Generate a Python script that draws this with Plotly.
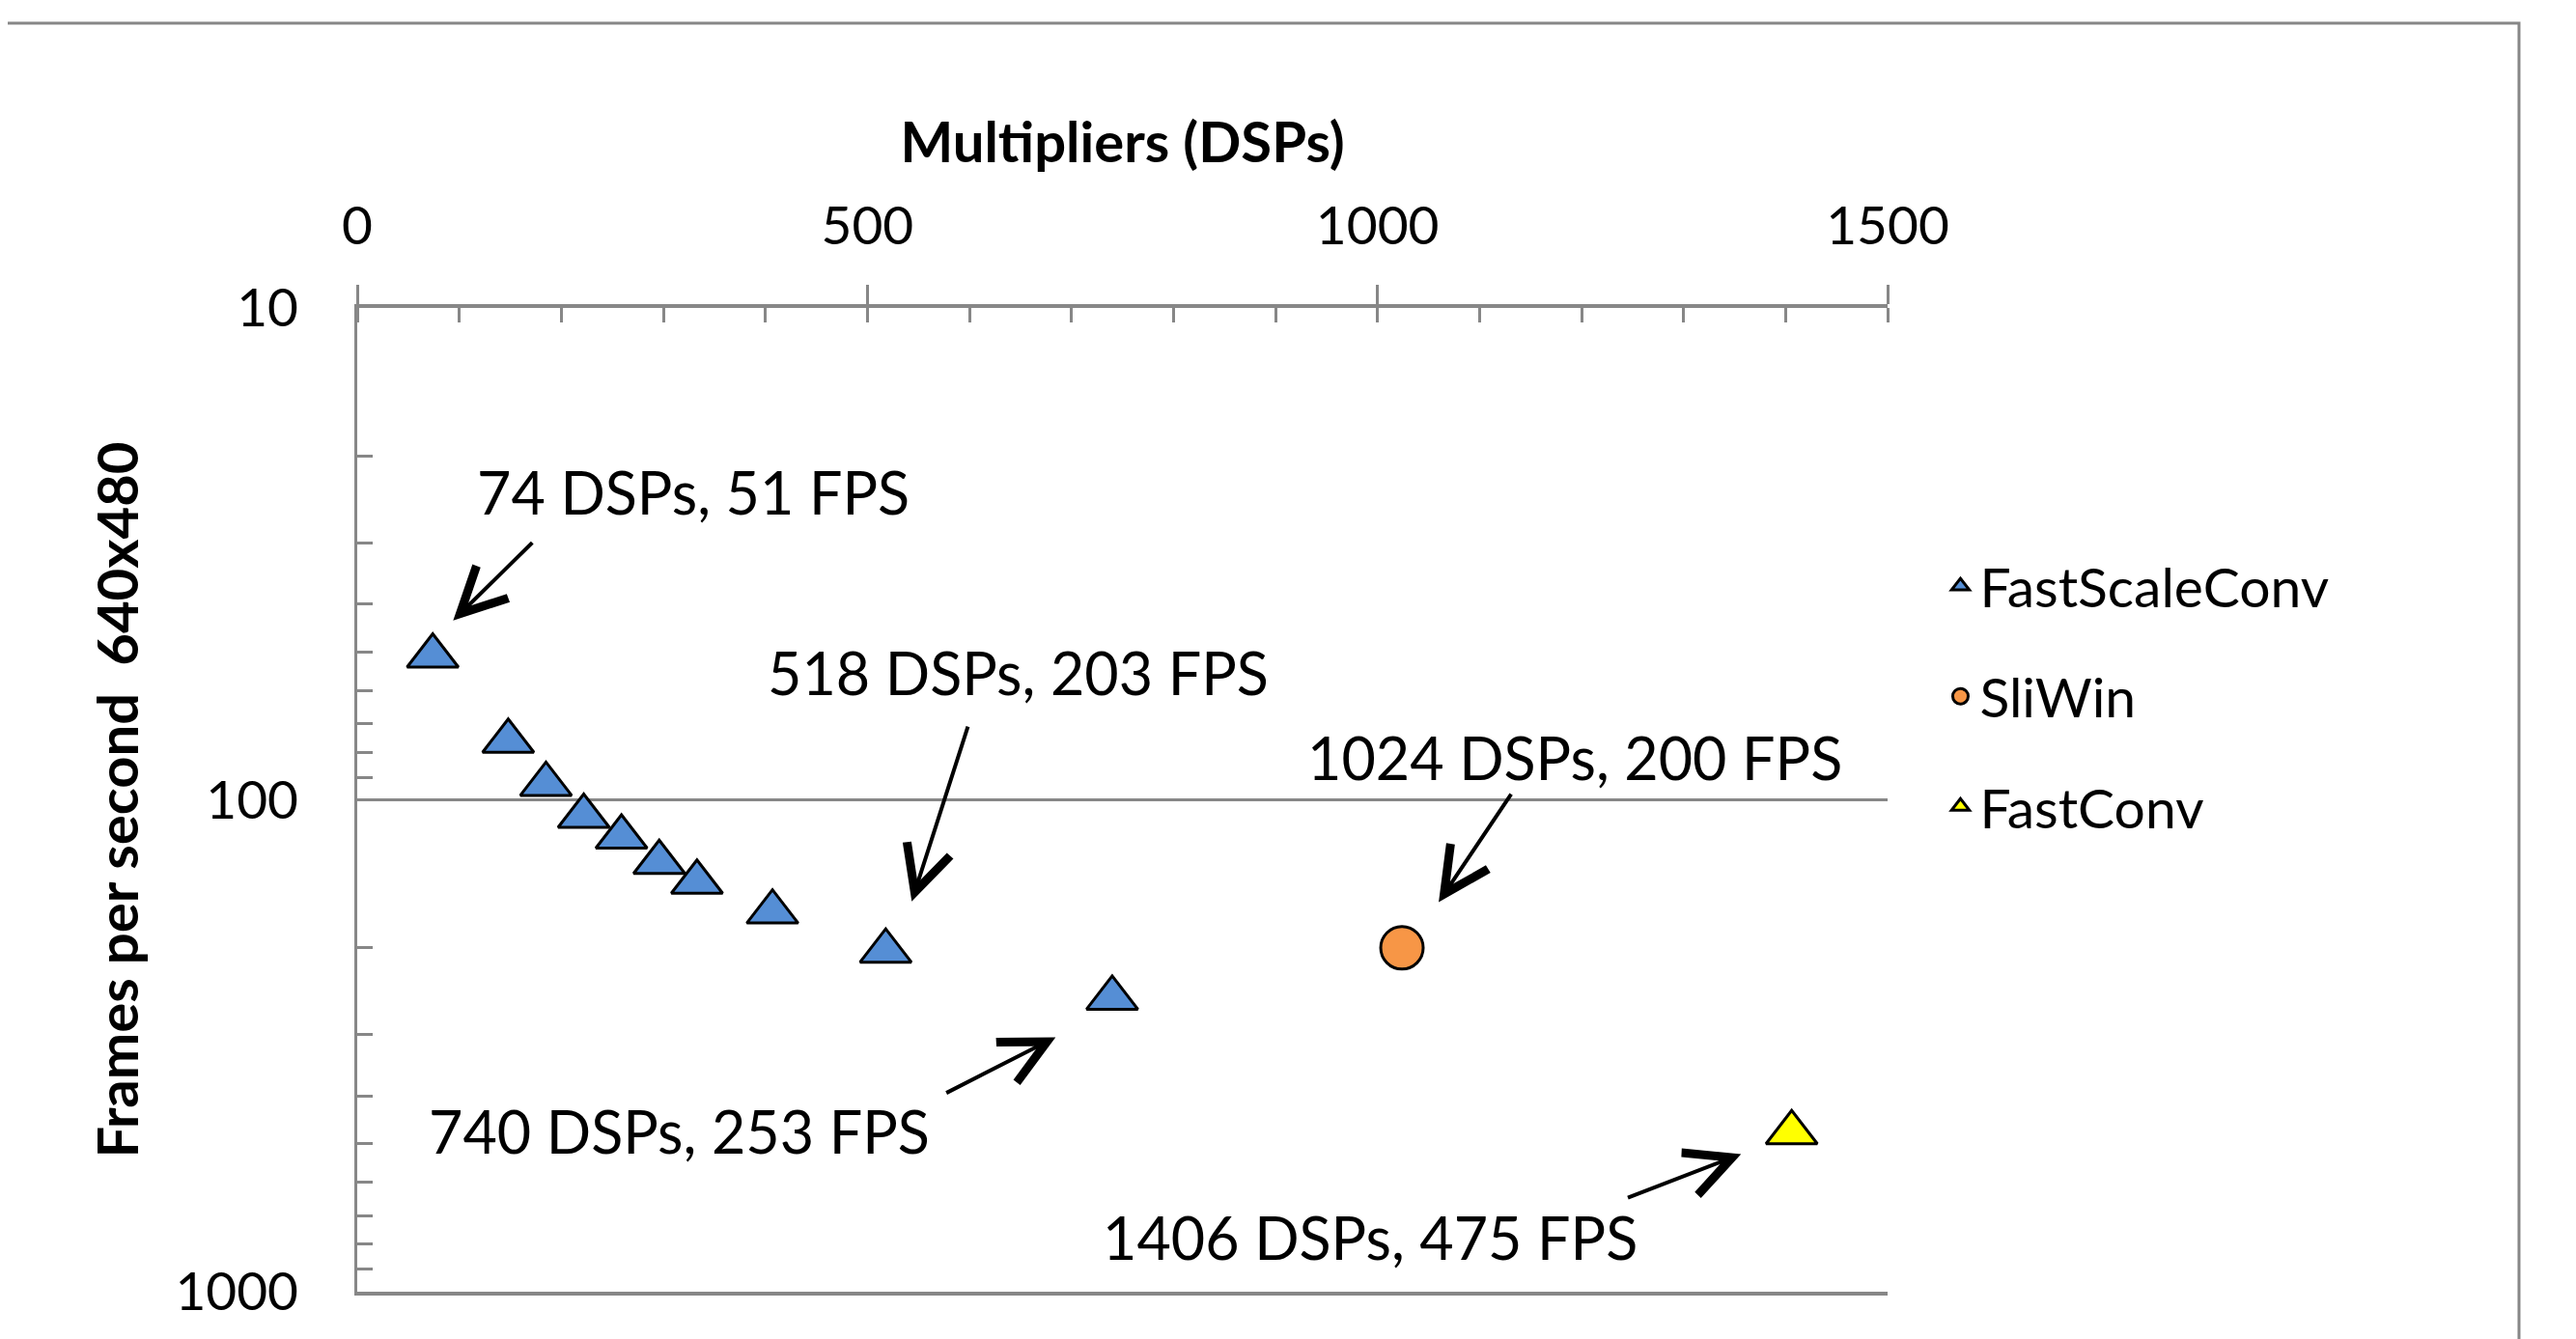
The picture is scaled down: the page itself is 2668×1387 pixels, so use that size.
import numpy as np
import plotly.graph_objects as go

# ---------------- data ----------------
fsc_dsps = [74, 148, 185, 222, 259, 296, 333, 407, 518, 740]
fsc_fps = [51, 76, 93, 108, 119, 134, 147, 169, 203, 253]
sliwin_dsps = [1024]
sliwin_fps = [200]
fastconv_dsps = [1406]
fastconv_fps = [475]

x_tickvals = [0, 500, 1000, 1500]
x_ticktext = ["0", "500", "1000", "1500"]
y_tickvals = [10, 100, 1000]
y_ticktext = ["10", "100", "1000"]
y_minorvals = [20, 30, 40, 50, 60, 70, 80, 90, 200, 300, 400, 500, 600, 700, 800, 900]

callout_text = ["74 DSPs, 51 FPS", "518 DSPs, 203 FPS", "1024 DSPs, 200 FPS",
                "740 DSPs, 253 FPS", "1406 DSPs, 475 FPS"]
callout_x = [329, 648, 1193, 316, 993]
callout_y = [23.7, 55.1, 82.0, 472, 773]
# arrows: tail (x, fps) -> head (x, fps)
arrow_tail_x = [173, 599, 1132, 576, 1244]
arrow_tail_y = [29.8, 70.5, 96.7, 395.7, 645.7]
arrow_head_x = [94, 543.5, 1060, 684.5, 1356.4]
arrow_head_y = [43.2, 160.9, 161.4, 303.9, 525]

FONT = "Lato"
GRAY = "#878787"

fig = go.Figure()
fig.add_trace(go.Scatter(
    x=fsc_dsps, y=fsc_fps, mode="markers", name="FastScaleConv", legendgroup="a",
    marker=dict(symbol="triangle-up", size=46, color="#558ED5",
                line=dict(color="black", width=3))))
fig.add_trace(go.Scatter(
    x=sliwin_dsps, y=sliwin_fps, mode="markers", name="SliWin", legendgroup="b",
    marker=dict(symbol="circle", size=44, color="#F79646",
                line=dict(color="black", width=3))))
fig.add_trace(go.Scatter(
    x=fastconv_dsps, y=fastconv_fps, mode="markers", name="FastConv", legendgroup="c",
    marker=dict(symbol="triangle-up", size=46, color="#FFFF00",
                line=dict(color="black", width=3))))
# helper trace for inner half of major x ticks
fig.add_trace(go.Scatter(x=[None], y=[None], xaxis="x2", showlegend=False,
                         hoverinfo="skip"))

annotations = []
for t, x, y in zip(callout_text, callout_x, callout_y):
    annotations.append(dict(text=t, x=x, y=np.log10(y), xref="x", yref="y",
                            showarrow=False, xanchor="center", yanchor="middle",
                            font=dict(family=FONT, size=61, color="black")))
for tx, ty, hx, hy in zip(arrow_tail_x, arrow_tail_y, arrow_head_x, arrow_head_y):
    annotations.append(dict(text="", x=hx, y=np.log10(hy), ax=tx, ay=np.log10(ty),
                            xref="x", yref="y", axref="x", ayref="y",
                            showarrow=True, arrowhead=5, arrowsize=2.3,
                            arrowwidth=4, arrowcolor="black", standoff=0,
                            startstandoff=0))

fig.update_layout(
    width=2668, height=1387,
    margin=dict(l=362, r=721, t=311, b=57, autoexpand=False),
    paper_bgcolor="white", plot_bgcolor="white",
    font=dict(family=FONT, color="black"),
    showlegend=True,
    legend=dict(x=1.035, xanchor="left", y=0.760, yanchor="top",
                font=dict(family=FONT, size=57, color="black"),
                tracegroupgap=37, traceorder="grouped",
                bgcolor="rgba(0,0,0,0)"),
    annotations=annotations,
    shapes=[dict(type="rect", xref="paper", yref="paper",
                 x0=-0.2315, x1=1.4126, y0=-0.2, y1=1.2895,
                 line=dict(color=GRAY, width=3), fillcolor="rgba(0,0,0,0)",
                 layer="below")],
    xaxis=dict(
        side="top", range=[0, 1500], tickvals=x_tickvals, ticktext=x_ticktext,
        ticks="outside", ticklen=20, tickwidth=3, tickcolor=GRAY,
        showline=True, linecolor=GRAY, linewidth=4, mirror=True,
        showgrid=False, zeroline=False,
        tickfont=dict(family=FONT, size=55, color="black"),
        ticklabelstandoff=20,
        minor=dict(dtick=100, ticks="inside", ticklen=15, tickwidth=3,
                   tickcolor=GRAY, showgrid=False),
        title=dict(text="<b>Multipliers (DSPs)</b>", standoff=13,
                   font=dict(family=FONT, size=58, color="black")),
    ),
    xaxis2=dict(
        overlaying="x", side="top", range=[0, 1500], tickvals=x_tickvals,
        ticks="inside", ticklen=15, tickwidth=3, tickcolor=GRAY,
        showticklabels=False, showline=False, showgrid=False, zeroline=False,
    ),
    yaxis=dict(
        type="log", range=[3, 1], tickvals=y_tickvals, ticktext=y_ticktext,
        ticks="", showline=True, linecolor=GRAY, linewidth=3,
        showgrid=True, gridcolor=GRAY, gridwidth=3, zeroline=False,
        tickfont=dict(family=FONT, size=55, color="black"),
        ticklabelstandoff=47,
        minor=dict(tickvals=y_minorvals, ticks="inside", ticklen=16, tickwidth=3,
                   tickcolor=GRAY, showgrid=False),
        title=dict(text="<b>Frames per second \u00a0640x480</b>", standoff=20,
                   font=dict(family=FONT, size=58, color="black")),
    ),
)

fig.write_html("out.html")
